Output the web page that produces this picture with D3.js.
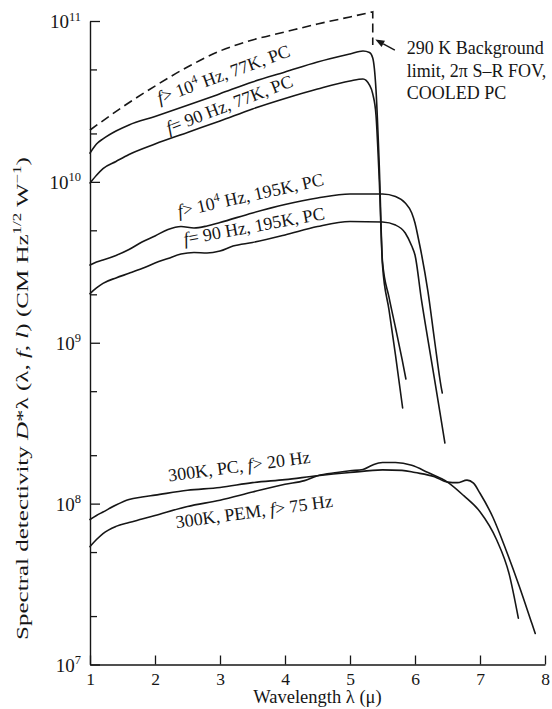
<!DOCTYPE html>
<html>
<head>
<meta charset="utf-8">
<script src="https://cdn.jsdelivr.net/npm/d3@7"></script>
<style>
  html, body { margin: 0; padding: 0; background: #fff; }
  svg { display: block; }
  text { font-family: "Liberation Serif", "Times New Roman", serif; fill: #161616; }
</style>
</head>
<body>
<svg id="chart" width="552" height="709"></svg>
<script>
// Wavelength samples (µm) and spectral detectivity D*λ (cm Hz^1/2 W^-1) per detector curve

// 290 K background limit, 2π FOV, cooled PC (dashed); drops vertically at cutoff
const bgLimitWl = [1.0, 1.5, 2.0, 2.5, 3.0, 3.5, 4.0, 4.5, 5.0, 5.35];
const bgLimitD  = [2.10e10, 2.92e10, 3.94e10, 5.18e10, 6.51e10, 7.62e10, 8.55e10, 9.58e10, 1.06e11, 1.14e11];
const bgLimitCutoffD = 7.09e10;

// f > 10^4 Hz, 77K, PC
const pc77fastWl = [1.0, 1.1, 1.2, 1.4, 1.6, 2.0, 2.5, 3.0, 3.5, 4.0, 4.5, 5.0, 5.2, 5.3, 5.35, 5.4, 5.45, 5.5, 5.6, 5.7, 5.8, 5.86];
const pc77fastD  = [1.51e10, 1.72e10, 1.85e10, 2.07e10, 2.26e10, 2.55e10, 2.99e10, 3.53e10, 4.18e10, 4.82e10, 5.56e10, 6.24e10, 6.51e10, 6.37e10, 5.89e10, 3.73e10, 1.27e10, 3.18e9, 1.92e9, 1.24e9, 7.93e8, 5.95e8];

// f = 90 Hz, 77K, PC
const pc77slowWl = [1.0, 1.1, 1.2, 1.4, 1.6, 2.0, 2.5, 3.0, 3.5, 4.0, 4.5, 5.0, 5.2, 5.3, 5.35, 5.4, 5.45, 5.5, 5.6, 5.7, 5.81];
const pc77slowD  = [9.84e9, 1.10e10, 1.21e10, 1.34e10, 1.48e10, 1.72e10, 2.03e10, 2.39e10, 2.84e10, 3.30e10, 3.78e10, 4.24e10, 4.36e10, 4.00e10, 3.52e10, 2.60e10, 1.03e10, 3.04e9, 1.60e9, 8.39e8, 3.93e8];

// f > 10^4 Hz, 195K, PC
const pc195fastWl = [1.0, 1.1, 1.2, 1.4, 1.6, 1.8, 2.0, 2.2, 2.4, 2.6, 2.8, 3.0, 3.5, 4.0, 4.5, 5.0, 5.5, 5.7, 5.85, 5.95, 6.0, 6.05, 6.1, 6.2, 6.3, 6.4, 6.42];
const pc195fastD  = [3.04e9, 3.18e9, 3.27e9, 3.49e9, 3.80e9, 4.23e9, 4.61e9, 5.06e9, 5.28e9, 5.17e9, 5.32e9, 5.59e9, 6.41e9, 7.23e9, 7.94e9, 8.41e9, 8.41e9, 8.11e9, 7.39e9, 6.41e9, 5.55e9, 4.48e9, 3.56e9, 2.07e9, 1.04e9, 5.38e8, 4.87e8];

// f = 90 Hz, 195K, PC
const pc195slowWl = [1.0, 1.1, 1.2, 1.4, 1.6, 1.8, 2.0, 2.2, 2.4, 2.6, 2.8, 3.0, 3.2, 3.5, 4.0, 4.5, 5.0, 5.5, 5.7, 5.85, 5.95, 6.0, 6.1, 6.2, 6.3, 6.4, 6.46];
const pc195slowD  = [2.02e9, 2.19e9, 2.34e9, 2.53e9, 2.70e9, 2.89e9, 3.13e9, 3.34e9, 3.56e9, 3.64e9, 3.61e9, 3.72e9, 3.99e9, 4.20e9, 4.68e9, 5.28e9, 5.67e9, 5.63e9, 5.39e9, 4.81e9, 3.99e9, 3.51e9, 1.84e9, 1.04e9, 5.95e8, 3.36e8, 2.38e8];

// 300K, PC, f > 20 Hz
const pc300Wl = [1.0, 1.1, 1.2, 1.4, 1.6, 1.8, 2.0, 2.5, 3.0, 3.5, 4.0, 4.5, 5.0, 5.5, 5.8, 6.0, 6.3, 6.5, 6.65, 6.8, 6.9, 7.0, 7.2, 7.4, 7.6, 7.8, 7.85];
const pc300D  = [7.97e7, 8.44e7, 8.87e7, 9.80e7, 1.06e8, 1.10e8, 1.13e8, 1.21e8, 1.26e8, 1.35e8, 1.41e8, 1.49e8, 1.56e8, 1.62e8, 1.61e8, 1.56e8, 1.47e8, 1.36e8, 1.35e8, 1.40e8, 1.34e8, 1.16e8, 8.20e7, 5.15e7, 3.10e7, 1.79e7, 1.56e7];

// 300K, PEM, f > 75 Hz
const pem300Wl = [1.0, 1.1, 1.2, 1.4, 1.6, 1.8, 2.0, 2.5, 3.0, 3.5, 4.0, 4.3, 4.5, 4.8, 5.0, 5.2, 5.35, 5.5, 5.7, 5.95, 6.2, 6.5, 6.75, 7.0, 7.25, 7.45, 7.59];
const pem300D  = [5.41e7, 5.98e7, 6.52e7, 7.22e7, 7.63e7, 8.02e7, 8.44e7, 9.60e7, 1.05e8, 1.18e8, 1.32e8, 1.39e8, 1.49e8, 1.56e8, 1.60e8, 1.63e8, 1.74e8, 1.80e8, 1.80e8, 1.73e8, 1.56e8, 1.36e8, 1.12e8, 8.91e7, 6.03e7, 3.63e7, 1.94e7];

// Axis ticks
const xTickValues = [1, 2, 3, 4, 5, 6, 7, 8];
const yDecadeExponents = [7, 8, 9, 10, 11];
const yMinorMultipliers = [2, 5];

// Curve label anchors (label centre in data units) and text pieces
const curveLabelWl = [3.085, 3.177, 3.49, 3.54, 3.308, 3.538];
const curveLabelD  = [4.30e10, 2.80e10, 7.6e9, 4.88e9, 1.57e8, 8.20e7];
const curveLabelAngle = [-20, -21, -12.5, -10.5, -7.5, -7.8];
const curveLabelParts = [
  [["f", "i"], ["> 10", ""], ["4", "sup"], [" Hz, 77K, PC", ""]],
  [["f", "i"], ["= 90 Hz, 77K, PC", ""]],
  [["f", "i"], ["> 10", ""], ["4", "sup"], [" Hz, 195K, PC", ""]],
  [["f", "i"], ["= 90 Hz, 195K, PC", ""]],
  [["300K, PC, ", ""], ["f", "i"], ["> 20 Hz", ""]],
  [["300K, PEM, ", ""], ["f", "i"], ["> 75 Hz", ""]]
];

// Background-limit annotation
const noteLines = ["290 K Background", "limit, 2\u03c0 S\u2013R FOV,", "COOLED PC"];
const noteArrowFrom = [5.69, 6.60e10];
const noteArrowTo = [5.39, 7.67e10];

const svg = d3.select("#chart");
const ink = "#161616";

const x = d3.scaleLinear().domain([1, 8]).range([90, 545]);
const y = d3.scaleLog().domain([1e7, 1e11]).range([664.5, 21]);

const zip = (wl, d) => wl.map((w, i) => [w, d[i]]);
const line = d3.line().x(p => x(p[0])).y(p => y(p[1])).curve(d3.curveMonotoneX);

// ---- axes ----
const yMajor = yDecadeExponents.map(e => Math.pow(10, e));
const yMinor = [];
yDecadeExponents.slice(0, -1).forEach(e => yMinorMultipliers.forEach(m => yMinor.push(m * Math.pow(10, e))));

svg.append("g").attr("transform", `translate(${x(1)},0)`)
  .call(d3.axisLeft(y).tickValues(yMajor).tickSize(-10).tickSizeOuter(0).tickFormat(""));
svg.append("g").attr("transform", `translate(${x(1)},0)`)
  .call(d3.axisLeft(y).tickValues(yMinor).tickSize(-7).tickSizeOuter(0).tickFormat(""))
  .select(".domain").remove();

const xAxisG = svg.append("g").attr("transform", `translate(0,${y(1e7)})`)
  .call(d3.axisBottom(x).tickValues(xTickValues).tickSize(-9).tickSizeOuter(0).tickPadding(8).tickFormat(d3.format("d")));

svg.selectAll(".domain").attr("stroke", ink).attr("stroke-width", 1.4);
svg.selectAll(".tick line").attr("stroke", ink).attr("stroke-width", 1.3);
xAxisG.selectAll(".tick text")
  .attr("font-family", "Liberation Serif, serif")
  .attr("font-size", 17.5).attr("fill", ink);

// decade labels 10^n
yDecadeExponents.forEach(e => {
  const t = svg.append("text")
    .attr("x", x(1) - 9).attr("y", y(Math.pow(10, e)) + 7)
    .attr("text-anchor", "end").attr("font-size", 19);
  t.append("tspan").text("10");
  t.append("tspan").attr("font-size", 12.5).attr("dy", -7.5).text(String(e));
});

// axis titles
svg.append("text")
  .attr("x", x(4.5)).attr("y", 703)
  .attr("text-anchor", "middle").attr("font-size", 18.5)
  .text("Wavelength \u03bb (\u03bc)");

const yTitle = svg.append("text")
  .attr("text-anchor", "middle").attr("font-size", 17);
yTitle.append("tspan").text("Spectral detectivity ");
yTitle.append("tspan").attr("font-style", "italic").text("D");
yTitle.append("tspan").text("*\u03bb (\u03bb, ");
yTitle.append("tspan").attr("font-style", "italic").text("f");
yTitle.append("tspan").text(", ");
yTitle.append("tspan").attr("font-style", "italic").text("l");
yTitle.append("tspan").text(") (CM Hz");
yTitle.append("tspan").attr("font-size", 11.5).attr("dy", -7).text("1/2");
yTitle.append("tspan").attr("dy", 7).text(" W");
yTitle.append("tspan").attr("font-size", 11.5).attr("dy", -7).text("\u22121");
yTitle.append("tspan").attr("dy", 7).text(")");
const yTitleLen = yTitle.node().getComputedTextLength();
const yTitleTarget = 483;
yTitle.attr("transform", `translate(28,398.5) rotate(-90) scale(${yTitleTarget / yTitleLen},1)`);

// ---- curves ----
const curves = [
  zip(pc77fastWl, pc77fastD),
  zip(pc77slowWl, pc77slowD),
  zip(pc195fastWl, pc195fastD),
  zip(pc195slowWl, pc195slowD),
  zip(pc300Wl, pc300D),
  zip(pem300Wl, pem300D)
];
svg.append("g").selectAll("path").data(curves).join("path")
  .attr("d", line)
  .attr("fill", "none").attr("stroke", ink).attr("stroke-width", 1.6)
  .attr("stroke-linejoin", "round").attr("stroke-linecap", "round");

// dashed background limit with vertical drop at cutoff
const bgPts = zip(bgLimitWl, bgLimitD);
const last = bgPts[bgPts.length - 1];
svg.append("path")
  .attr("d", line(bgPts) + `L${x(last[0])},${y(bgLimitCutoffD)}`)
  .attr("fill", "none").attr("stroke", ink).attr("stroke-width", 1.6)
  .attr("stroke-dasharray", "9,5");

// ---- curve labels ----
curveLabelParts.forEach((parts, i) => {
  const t = svg.append("text")
    .attr("text-anchor", "middle").attr("font-size", 18)
    .attr("transform", `translate(${x(curveLabelWl[i])},${y(curveLabelD[i])}) rotate(${curveLabelAngle[i]})`);
  let raised = false;
  parts.forEach(([s, kind]) => {
    const ts = t.append("tspan").text(s);
    if (kind === "i") ts.attr("font-style", "italic");
    if (kind === "sup") { ts.attr("font-size", 12).attr("dy", -7.5); raised = true; }
    else if (raised) { ts.attr("dy", 7.5); raised = false; }
  });
});

// ---- annotation ----
const ax0 = x(noteArrowFrom[0]), ay0 = y(noteArrowFrom[1]);
const ax1 = x(noteArrowTo[0]), ay1 = y(noteArrowTo[1]);
const ang = Math.atan2(ay1 - ay0, ax1 - ax0);
const headLen = 9, headHalf = 3.6;
const bx = ax1 - headLen * Math.cos(ang), by = ay1 - headLen * Math.sin(ang);
svg.append("line")
  .attr("x1", ax0).attr("y1", ay0).attr("x2", bx).attr("y2", by)
  .attr("stroke", ink).attr("stroke-width", 1.4);
svg.append("path")
  .attr("d", `M${ax1},${ay1}L${bx - headHalf * Math.sin(ang)},${by + headHalf * Math.cos(ang)}L${bx + headHalf * Math.sin(ang)},${by - headHalf * Math.cos(ang)}Z`)
  .attr("fill", ink);

const note = svg.append("text").attr("font-size", 18);
noteLines.forEach((s, i) => {
  note.append("tspan").attr("x", ax0 + 12).attr("y", ay0 + 4 + i * 22.7).text(s);
});
</script>
</body>
</html>
